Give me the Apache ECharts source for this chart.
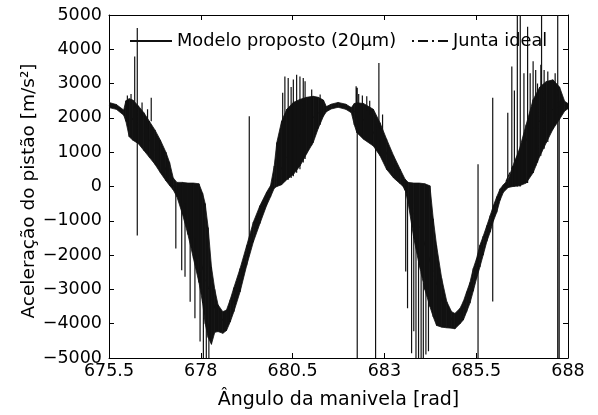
<!DOCTYPE html>
<html><head><meta charset="utf-8">
<script src="https://cdn.jsdelivr.net/npm/echarts@6/dist/echarts.min.js"></script>
<style>html,body{margin:0;padding:0;background:#fff}#c{width:598px;height:415px}</style>
</head><body><div id="c"></div>
<script>
// Ideal joint ("Junta ideal") curve
const idealX = [675.5,675.75,676.0,676.25,676.5,676.75,677.0,677.25,677.5,677.75,678.0,678.2,678.4,678.6,678.8,679.0,679.2,679.4,679.6,679.8,680.0,680.25,680.5,680.75,681.0,681.25,681.5,681.74,682.0,682.25,682.5,682.75,683.0,683.25,683.5,683.75,684.0,684.25,684.45,684.65,684.87,685.05,685.25,685.45,685.65,685.85,686.05,686.25,686.5,686.75,687.0,687.25,687.5,687.75,688.0];
const idealY = [2375,2300,2120,1850,1500,1080,600,50,-600,-1350,-2200,-2950,-3600,-3900,-3650,-3000,-2200,-1450,-850,-350,100,650,1150,1600,1950,2200,2340,2380,2320,2140,1870,1500,1080,600,50,-600,-1350,-2200,-2950,-3600,-3920,-3750,-3350,-2650,-1900,-1200,-550,0,600,1150,1600,1950,2200,2330,2380];

// Proposed model (20 um clearance): envelope of the dense oscillation band
const envX = [675.50,675.70,675.90,675.96,676.05,676.15,676.30,676.45,676.60,676.75,676.90,677.05,677.15,677.25,677.35,677.50,677.65,677.80,677.95,678.05,678.12,678.20,678.29,678.38,678.47,678.60,678.70,678.80,678.90,679.07,679.25,679.43,679.61,679.79,679.90,680.00,680.07,680.20,680.34,680.52,680.70,680.88,681.06,681.20,681.34,681.42,681.55,681.74,681.95,682.10,682.18,682.25,682.43,682.70,682.88,683.06,683.25,683.43,683.56,683.65,683.80,683.95,684.10,684.24,684.33,684.42,684.56,684.70,684.83,684.92,685.06,685.15,685.24,685.33,685.42,685.51,685.60,685.69,685.79,685.88,685.97,686.06,686.15,686.24,686.37,686.50,686.68,686.86,687.05,687.23,687.41,687.59,687.77,687.91,688.00];
const envLow = [2300,2250,2080,1900,1450,1350,1250,1050,850,650,400,170,30,-100,-300,-800,-1400,-2100,-2800,-3400,-4000,-4400,-4600,-4250,-4230,-4280,-4200,-3950,-3650,-3070,-2300,-1620,-1080,-560,-300,-50,0,50,200,350,600,950,1280,1700,2050,2180,2260,2310,2250,2150,1800,1570,1380,1180,900,500,250,80,-50,-500,-1500,-2300,-3000,-3500,-3800,-4050,-4100,-4120,-4130,-4150,-4000,-3890,-3650,-3400,-3050,-2680,-2350,-2000,-1600,-1330,-1000,-750,-400,-170,-30,0,20,100,400,880,1280,1670,1960,2200,2270];
const envHigh = [2450,2390,2230,2500,2560,2520,2350,2150,1900,1650,1350,1000,700,250,120,120,100,100,80,-200,-500,-1200,-2340,-3000,-3450,-3650,-3600,-3300,-2950,-2390,-1720,-1040,-560,-170,30,600,1280,1900,2250,2450,2540,2600,2630,2600,2520,2330,2400,2450,2400,2300,2420,2440,2420,2250,1860,1380,900,500,220,120,100,100,80,20,-940,-1715,-2680,-3360,-3650,-3700,-3550,-3350,-3070,-2800,-2390,-2100,-1715,-1450,-1140,-850,-555,-300,-70,50,200,600,1100,1800,2530,2900,3060,3110,2900,2480,2420];

// Isolated impact spikes of the proposed model
const spikeX = [676.00,676.10,676.20,676.27,676.40,676.55,676.65,677.32,677.48,677.57,677.71,677.84,677.98,678.07,678.15,678.22,679.32,680.23,680.29,680.38,680.46,680.52,680.61,680.70,680.79,680.84,681.02,681.25,682.23,682.26,682.30,682.40,682.52,682.60,682.76,682.85,682.95,683.58,683.63,683.74,683.80,683.86,683.93,684.00,684.06,684.13,684.20,685.55,685.95,686.36,686.47,686.54,686.62,686.70,686.80,686.90,686.97,687.05,687.12,687.17,687.26,687.28,687.35,687.45,687.65,687.72,687.76];
const spikeFrom = [2400,2400,2300,4620,2000,1700,1900,0,0,-500,-1000,-1500,-2500,-3000,-4000,-4000,-1700,100,150,200,250,300,400,500,700,800,1200,1800,2000,2880,2300,2300,2200,2100,1800,1700,1500,0,0,0,-1000,-1500,-2000,-2500,-2800,-3000,-3300,650,2590,0,0,0,0,0,100,100,300,400,600,700,900,1000,1100,1300,1800,5000,2500];
const spikeTo = [2650,2700,3790,-1430,2450,2250,2590,-1810,-2440,-2630,-3360,-3840,-4520,-5000,-5000,-5000,2050,2730,3210,3160,2900,3120,3260,3210,3160,3070,2830,2680,2920,-5000,2700,2650,2630,2500,-5000,3600,2100,-2480,-3550,-4860,-4220,-5000,-5000,-5000,-5000,-4900,-4800,-5000,-3350,2150,3500,2800,5000,5000,3300,4660,3300,3650,3400,3000,3550,5000,3400,3350,3300,-5000,-5000];

const xTickMin = 675.5, xTickMax = 688, xTickStep = 2.5;
const yTickMin = -5000, yTickMax = 5000, yTickStep = 1000;

const MODEL = 'Modelo proposto (20\u03bcm)';
const IDEAL = 'Junta ideal';
const X_TITLE = '\u00c2ngulo da manivela [rad]';
const Y_TITLE = 'Acelera\u00e7\u00e3o do pist\u00e3o [m/s\u00b2]';
const FONT = 'DejaVu Sans';
const INK = '#111';

const idealData = idealX.map((x, i) => [x, idealY[i]]);
const bandData = envX.map((x, i) => [x, envLow[i], envHigh[i]]);
const spikeData = [];
spikeX.forEach((x, i) => { spikeData.push([x, spikeFrom[i]], [x, spikeTo[i]], [x, '-']); });

const fmtY = v => (v < 0 ? '\u2212' + (-v) : String(v));

const axisCommon = {
  axisLine: { show: true, onZero: false, lineStyle: { color: '#000', width: 1 } },
  axisTick: { show: true, inside: true, length: 5, lineStyle: { color: '#000', width: 1 } },
  splitLine: { show: false }
};

function renderBand(params, api) {
  const i = params.dataIndex;
  if (i >= envX.length - 1) return null;
  const pts = [
    api.coord([envX[i], envLow[i]]),
    api.coord([envX[i + 1], envLow[i + 1]]),
    api.coord([envX[i + 1], envHigh[i + 1]]),
    api.coord([envX[i], envHigh[i]])
  ];
  return { type: 'polygon', shape: { points: pts }, style: { fill: INK, stroke: INK, lineWidth: 0.8 } };
}

const chart = echarts.init(document.getElementById('c'), null, { renderer: 'canvas' });
chart.setOption({
  animation: false,
  backgroundColor: '#fff',
  color: [INK, INK, INK],
  grid: { left: 109, top: 15, width: 459, height: 345, containLabel: false },
  graphic: [
    {
      type: 'text', x: 29, y: 191, rotation: Math.PI / 2, silent: true,
      style: { text: Y_TITLE, fill: '#000', font: '18.5px "DejaVu Sans"', align: 'center', verticalAlign: 'middle' }
    }
  ],
  xAxis: [
    Object.assign({
      type: 'value', min: xTickMin, max: xTickMax, interval: xTickStep, position: 'bottom',
      axisLabel: { color: '#000', fontFamily: FONT, fontSize: 17.5, margin: 4 },
      name: X_TITLE, nameLocation: 'middle', nameGap: 33,
      nameTextStyle: { color: '#000', fontFamily: FONT, fontSize: 19 }
    }, axisCommon),
    Object.assign({
      type: 'value', min: xTickMin, max: xTickMax, interval: xTickStep, position: 'top',
      axisLabel: { show: false }
    }, axisCommon)
  ],
  yAxis: [
    Object.assign({
      type: 'value', min: yTickMin, max: yTickMax, interval: yTickStep, position: 'left',
      axisLabel: { color: '#000', fontFamily: FONT, fontSize: 17.5, margin: 7, formatter: fmtY }
    }, axisCommon),
    Object.assign({
      type: 'value', min: yTickMin, max: yTickMax, interval: yTickStep, position: 'right',
      axisLabel: { show: false }
    }, axisCommon)
  ],
  legend: [
    {
      data: [{ name: MODEL }], left: 124, top: 27, itemWidth: 42, itemHeight: 14,
      itemStyle: { opacity: 0 },
      textStyle: { color: '#000', fontFamily: FONT, fontSize: 17.8 }, selectedMode: false
    },
    {
      data: [{ name: IDEAL }], left: 406, top: 27, itemWidth: 36, itemHeight: 14,
      itemStyle: { opacity: 0 },
      textStyle: { color: '#000', fontFamily: FONT, fontSize: 17.8 }, selectedMode: false
    }
  ],
  series: [
    {
      type: 'line', name: IDEAL, data: idealData, symbol: 'none', smooth: false, z: 1,
      itemStyle: { color: INK },
      lineStyle: { color: INK, width: 1.2, type: [2, 4, 10, 4] }
    },
    {
      type: 'custom', name: 'envBand', coordinateSystem: 'cartesian2d', data: bandData,
      encode: { x: 0, y: [1, 2] }, renderItem: renderBand, z: 2, silent: true, clip: true,
      itemStyle: { color: INK }
    },
    {
      type: 'line', name: MODEL, data: spikeData, symbol: 'none', z: 3, connectNulls: false,
      itemStyle: { color: INK },
      lineStyle: { color: INK, width: 1.2 }
    }
  ]
});
</script>
</body></html>
